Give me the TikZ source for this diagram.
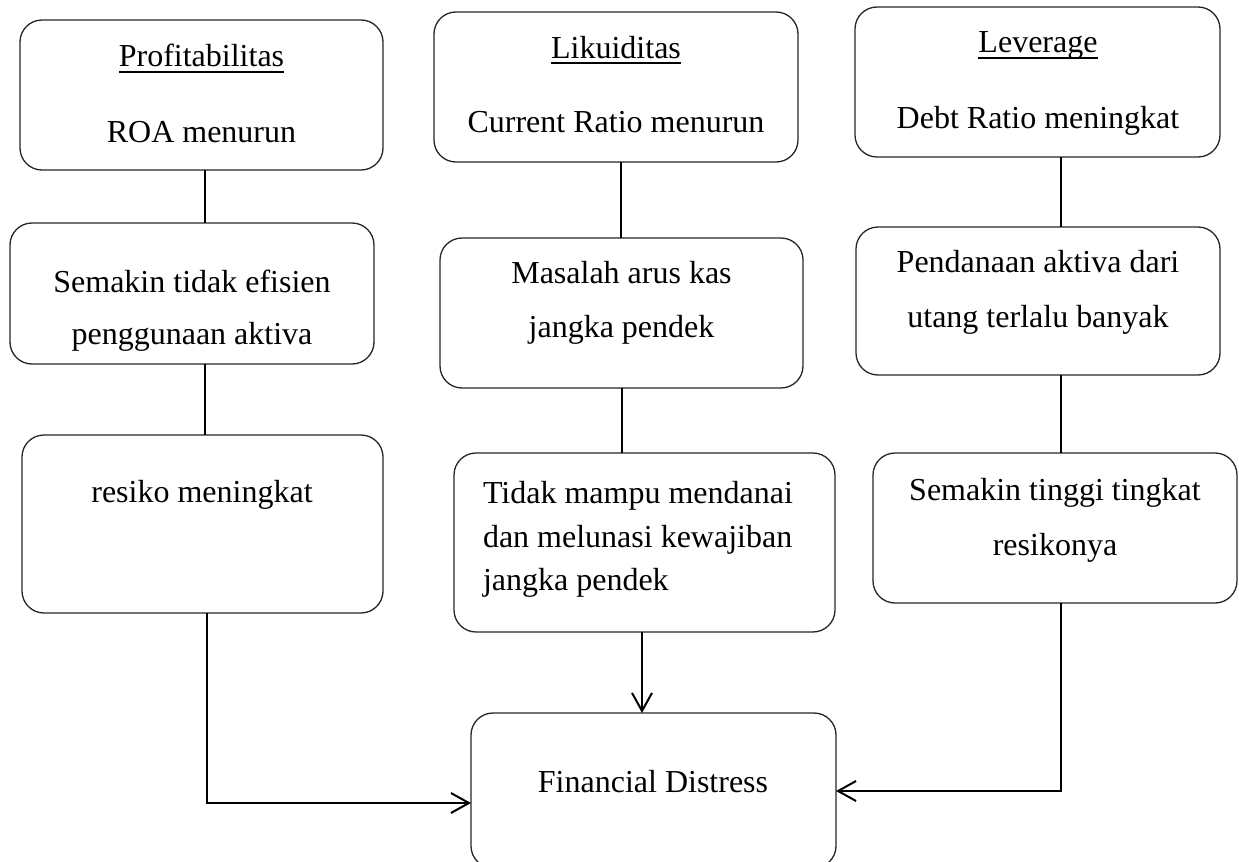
\documentclass[tikz,border=0pt]{standalone}
\usepackage{fontspec}
\setmainfont{Liberation Serif}
\usetikzlibrary{arrows.meta,fit,calc}
\newcommand{\ulword}[1]{\setbox0\hbox{#1}\rlap{\rule[-3pt]{\wd0}{0.75pt}}\box0}
\begin{document}
\begin{tikzpicture}[x=0.5pt,y=-0.5pt,
  box/.style={draw=black!85, line width=0.65pt, rounded corners=11pt, inner sep=0pt, outer sep=0pt},
  txt/.style={inner sep=0pt, outer sep=0pt, anchor=base, font=\fontsize{16pt}{27pt}\selectfont},
  ltxt/.style={txt, anchor=base west},
  conn/.style={line width=1pt, black},
  arr/.style={conn, -{Straight Barb[length=9pt,width=10pt]}}]
\useasboundingbox (0,0) rectangle (1239,862);

% boxes
\node[box, fit={(20,20) (383,170)}] (a1) {};
\node[box, fit={(434,12) (798,162)}] (b1) {};
\node[box, fit={(855,7) (1220,157)}] (c1) {};
\node[box, fit={(10,223) (374,364)}] (a2) {};
\node[box, fit={(440,238) (803,388)}] (b2) {};
\node[box, fit={(856,227) (1220,375)}] (c2) {};
\node[box, fit={(22,435) (383,613)}] (a3) {};
\node[box, fit={(454,453) (835,632)}] (b3) {};
\node[box, fit={(873,453) (1237,603)}] (c3) {};
\node[box, fit={(471,713) (836,868)}] (fd) {};

% texts
\node[txt] (a1h) at (201.5,67) {\ulword{Profitabilitas}};
\node[txt] (a1b) at (201.5,142) {ROA menurun};
\node[txt] (b1h) at (616,58) {\ulword{Likuiditas}};
\node[txt] (b1b) at (616,133) {Current Ratio menurun};
\node[txt] (c1h) at (1038,53) {\ulword{Leverage}};
\node[txt] (c1b) at (1038,128) {Debt Ratio meningkat};

\node[txt] (a2a) at (192,292) {Semakin tidak efisien};
\node[txt] (a2b) at (192,344) {penggunaan aktiva};
\node[txt] (b2a) at (621.5,283) {Masalah arus kas};
\node[txt] (b2b) at (621.5,337) {jangka pendek};
\node[txt] (c2a) at (1038,272) {Pendanaan aktiva dari};
\node[txt] (c2b) at (1038,327) {utang terlalu banyak};

\node[txt] (a3a) at (202,502) {resiko meningkat};
\node[ltxt] (b3a) at (483,503) {Tidak mampu mendanai};
\node[ltxt] (b3b) at (483,547) {dan melunasi kewajiban};
\node[ltxt] (b3c) at (483,590) {jangka pendek};
\node[txt] (c3a) at (1055,500) {Semakin tinggi tingkat};
\node[txt] (c3b) at (1055,555) {resikonya};

\node[txt] (fdt) at (653,792) {Financial Distress};

% connector guides
\coordinate (xa) at (205,0);
\coordinate (xa3) at (207,0);
\coordinate (xb) at (621,0);
\coordinate (xb2) at (622,0);
\coordinate (xb3) at (642,0);
\coordinate (xc) at (1061,0);
\coordinate (ya) at (0,803);
\coordinate (yc) at (0,791);

% connectors
\draw[conn] (a1.south -| xa) -- (a2.north -| xa);
\draw[conn] (a2.south -| xa) -- (a3.north -| xa);
\draw[arr] (a3.south -| xa3) |- (fd.west |- ya);
\draw[conn] (b1.south -| xb) -- (b2.north -| xb);
\draw[conn] (b2.south -| xb2) -- (b3.north -| xb2);
\draw[arr] (b3.south -| xb3) -- (fd.north -| xb3);
\draw[conn] (c1.south -| xc) -- (c2.north -| xc);
\draw[conn] (c2.south -| xc) -- (c3.north -| xc);
\draw[arr] (c3.south -| xc) |- (fd.east |- yc);
\end{tikzpicture}
\end{document}
